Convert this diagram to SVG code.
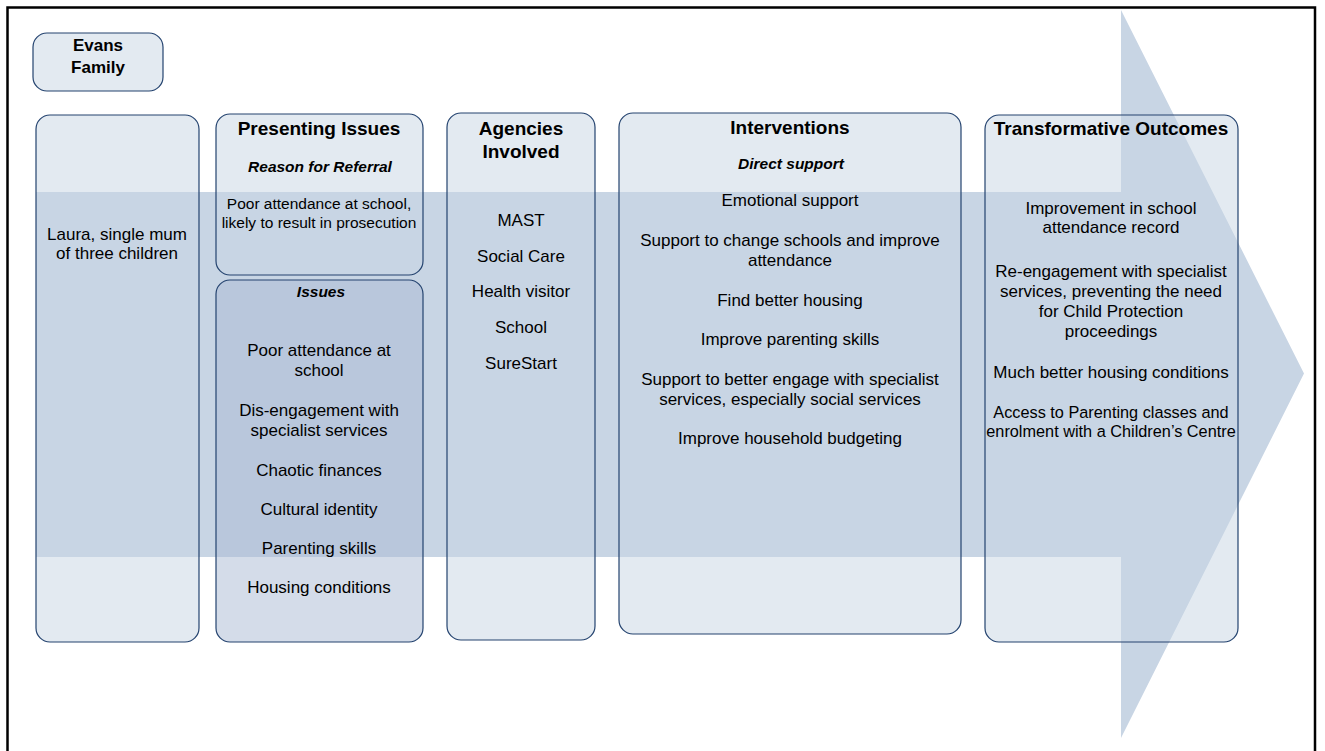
<svg xmlns="http://www.w3.org/2000/svg" width="1325" height="751" viewBox="0 0 1325 751">
<style>
.box{fill:#c8d5e4;fill-opacity:0.5;stroke:#24436f;stroke-width:1.2}
.dark{fill:#a9b9d3;fill-opacity:0.5;stroke:#24436f;stroke-width:1.2}
text{font-family:"Liberation Sans",Arial,sans-serif;fill:#000;text-anchor:middle}
.h{font-size:19px;font-weight:bold}
.s{font-size:15.5px;font-weight:bold;font-style:italic}
.b{font-size:17px}
.m{font-size:15.5px}
.a{font-size:16.3px}
.e{font-size:17px;font-weight:bold}
</style>
<rect x="0" y="0" width="1325" height="751" fill="#fff"/>
<rect x="7.5" y="7.5" width="1307.5" height="800" fill="none" stroke="#000" stroke-width="2.5"/>
<g id="arrow">
<polygon points="36,192 1121,192 1121,10 1304,373.5 1121,738 1121,557 36,557" fill="#c8d5e4"/>
</g>
<g id="connectors"></g>
<g id="evans">
<rect class="box" x="33" y="33" width="130" height="58" rx="14"/>
<text class="e" x="98" y="51">Evans</text>
<text class="e" x="98" y="73">Family</text>
</g>
<g id="laura">
<rect class="box" x="36" y="115" width="163" height="527" rx="14"/>
<text class="b" x="117" y="240">Laura, single mum</text>
<text class="b" x="117" y="259">of three children</text>
</g>
<g id="presenting">
<rect class="box" x="216" y="114" width="207" height="161" rx="14"/>
<text class="h" x="319" y="135">Presenting Issues</text>
<text class="s" x="320" y="172">Reason for Referral</text>
<text class="m" x="319" y="209">Poor attendance at school,</text>
<text class="m" x="319" y="228">likely to result in prosecution</text>
</g>
<g id="issues">
<rect class="dark" x="216" y="280" width="207" height="362" rx="14"/>
<text class="s" x="321" y="297">Issues</text>
<text class="b" x="319" y="356">Poor attendance at</text>
<text class="b" x="319" y="376">school</text>
<text class="b" x="319" y="416">Dis-engagement with</text>
<text class="b" x="319" y="436">specialist services</text>
<text class="b" x="319" y="476">Chaotic finances</text>
<text class="b" x="319" y="515">Cultural identity</text>
<text class="b" x="319" y="554">Parenting skills</text>
<text class="b" x="319" y="593">Housing conditions</text>
</g>
<g id="agencies">
<rect class="box" x="447" y="113" width="148" height="527" rx="14"/>
<text class="h" x="521" y="135">Agencies</text>
<text class="h" x="521" y="158">Involved</text>
<text class="b" x="521" y="226">MAST</text>
<text class="b" x="521" y="262">Social Care</text>
<text class="b" x="521" y="297">Health visitor</text>
<text class="b" x="521" y="333">School</text>
<text class="b" x="521" y="369">SureStart</text>
</g>
<g id="interventions">
<rect class="box" x="619" y="113" width="342" height="521" rx="14"/>
<text class="h" x="790" y="134">Interventions</text>
<text class="s" x="791" y="169">Direct support</text>
<text class="b" x="790" y="206">Emotional support</text>
<text class="b" x="790" y="246">Support to change schools and improve</text>
<text class="b" x="790" y="266">attendance</text>
<text class="b" x="790" y="306">Find better housing</text>
<text class="b" x="790" y="345">Improve parenting skills</text>
<text class="b" x="790" y="385">Support to better engage with specialist</text>
<text class="b" x="790" y="405">services, especially social services</text>
<text class="b" x="790" y="444">Improve household budgeting</text>
</g>
<g id="outcomes">
<rect class="box" x="985" y="115" width="253" height="527" rx="14"/>
<text class="h" x="1111" y="135">Transformative Outcomes</text>
<text class="b" x="1111" y="214">Improvement in school</text>
<text class="b" x="1111" y="233">attendance record</text>
<text class="b" x="1111" y="277">Re-engagement with specialist</text>
<text class="b" x="1111" y="297">services, preventing the need</text>
<text class="b" x="1111" y="317">for Child Protection</text>
<text class="b" x="1111" y="337">proceedings</text>
<text class="b" x="1111" y="378">Much better housing conditions</text>
<text class="a" x="1111" y="418">Access to Parenting classes and</text>
<text class="a" x="1111" y="437">enrolment with a Children’s Centre</text>
</g>
</svg>
